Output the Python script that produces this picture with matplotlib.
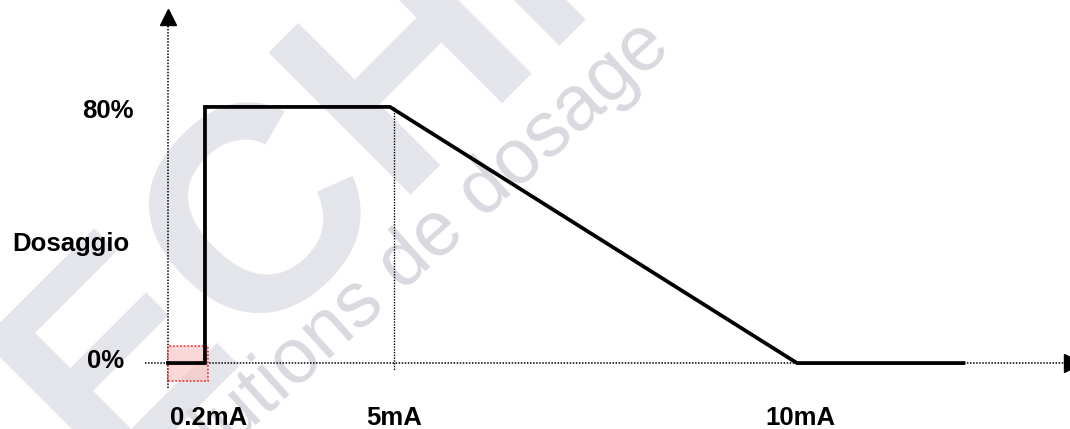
import matplotlib.pyplot as plt
from matplotlib.patches import Rectangle

# schematic chart: x positions are not to scale, just like the drawing
current_labels = ['0.2mA', '5mA', '10mA']
current_pos = [1.0, 6.0, 17.0]
dose_levels = [0, 80]
dose_labels = ['0%', '80%']

# dosing curve (x in schematic units, y in %)
curve_x = [0.0, 1.0, 1.0, 6.0, 17.0, 21.5]
curve_y = [0, 0, 80, 80, 0, 0]

FONT = ['Liberation Sans', 'DejaVu Sans']

fig = plt.figure(figsize=(10.7, 4.29), dpi=100)
ax = fig.add_axes([0, 0, 1, 1])
ax.set_xlim(-4.54, 24.38)
ax.set_ylim(-20.6, 113.4)
ax.axis('off')

# watermark
ax.text(3.2, 47.8, 'TECHN', rotation=45, fontsize=210, fontweight='bold',
        color='#e4e5ea', ha='center', va='center', family=FONT, zorder=0)
ax.text(6.2, 29.0, 'Solutions de dosage', rotation=42, fontsize=56,
        color='#d9dae0', ha='center', va='center', family=FONT, zorder=1)

# dotted axes
ax.plot([-0.62, 24.3], [0, 0], color='black', lw=1.1, ls=(0, (1, 1)), zorder=2)
ax.plot([0, 0], [-7.8, 105.3], color='black', lw=1.1, ls=(0, (1, 1)), zorder=2)
ax.plot([0], [108.0], marker='^', ms=11.5, color='black', clip_on=False, zorder=3)
ax.plot([24.46], [0], marker='>', ms=13, color='black', clip_on=False, zorder=3)

# guide at 5mA
ax.plot([current_pos[1] + 0.1] * 2, [dose_levels[1], -2.2], color='black',
        lw=1.0, ls=(0, (1, 1)), zorder=2)

# highlighted start zone
ax.add_patch(Rectangle((0, -5.6), 1.08, 10.9, facecolor='#f8c8c8', alpha=0.7,
                       edgecolor='red', lw=1.3, ls=(0, (1, 1)), zorder=3))

# curve
ax.plot(curve_x, curve_y, color='black', lw=2.7, solid_joinstyle='miter', zorder=4)

# labels
kw = dict(fontsize=18.5, fontweight='bold', family=FONT, color='black')
ax.text(-0.92, 76.6, dose_labels[1], ha='right', va='baseline', **kw)
ax.text(-1.19, -1.6, dose_labels[0], ha='right', va='baseline', **kw)
ax.text(-1.03, 35.0, 'Dosaggio', ha='right', va='baseline', **kw)
for x, lab in zip(current_pos, current_labels):
    ax.text(x + 0.1, -19.2, lab, ha='center', va='baseline', **kw)

fig.savefig('out.png', dpi=100)
